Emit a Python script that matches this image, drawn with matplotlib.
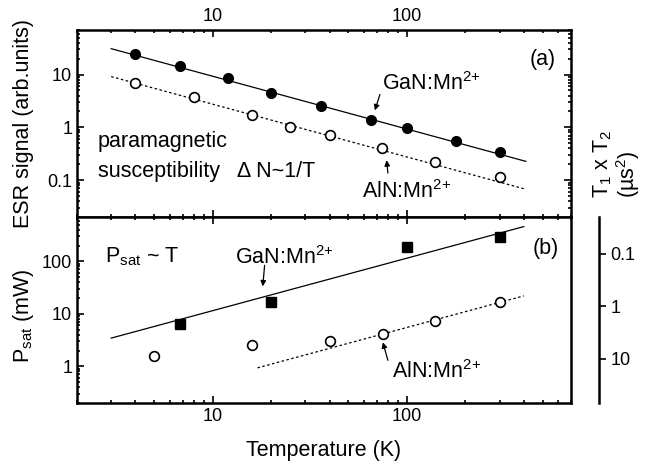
import numpy as np
import matplotlib.pyplot as plt
from matplotlib.ticker import FuncFormatter, NullFormatter, NullLocator, FixedLocator

plt.rcParams['font.family'] = ['Liberation Sans', 'DejaVu Sans']
plt.rcParams['mathtext.fontset'] = 'custom'
plt.rcParams['mathtext.rm'] = 'Liberation Sans'
plt.rcParams['mathtext.it'] = 'Liberation Sans:italic'
plt.rcParams['mathtext.default'] = 'regular'

# (a) ESR signal vs temperature
gan_T_esr = [4, 6.8, 12, 20, 36, 65, 100, 180, 300]
gan_esr = [25, 14.8, 8.8, 4.4, 2.5, 1.36, 0.96, 0.55, 0.34]
aln_T_esr = [4, 8, 16, 25, 40, 74, 140, 300]
aln_esr = [6.8, 3.7, 1.7, 1.0, 0.71, 0.40, 0.22, 0.114]
# 1/T fits
gan_esr_amp = 93
aln_esr_amp = 27.5
esr_fit_range = [3, 410]

# (b) saturation power vs temperature
gan_T_sat = [6.8, 20, 100, 300]
gan_psat = [6.3, 16.6, 190, 290]
aln_T_sat = [5, 16, 40, 75, 140, 300]
aln_psat = [1.6, 2.5, 3.1, 4.2, 7.2, 16.6]
# ~T fits
gan_sat_amp = 1.15
aln_sat_amp = 0.055
gan_sat_range = [3, 400]
aln_sat_range = [17, 400]
t1t2_const = 14  # T1 x T2 = const / Psat

fig = plt.figure(figsize=(6.51, 4.66), dpi=100)
ax1 = fig.add_axes([0.1183, 0.5343, 0.7588, 0.4013])
ax2 = fig.add_axes([0.1183, 0.1352, 0.7588, 0.3991])

fmt = FuncFormatter(lambda v, _: f'{v:g}')
for ax in (ax1, ax2):
    ax.set_xscale('log')
    ax.set_yscale('log')
    ax.set_xlim(2, 700)
    ax.tick_params(which='both', direction='in', top=True, right=True, width=1.2, labelsize=13)
    ax.tick_params(which='major', length=5)
    ax.tick_params(which='minor', length=2.5)
    ax.xaxis.set_major_formatter(fmt)
    ax.yaxis.set_major_formatter(fmt)
    ax.xaxis.set_minor_formatter(NullFormatter())
    ax.yaxis.set_minor_formatter(NullFormatter())
    for s in ax.spines.values():
        s.set_linewidth(1.8)

fs = 15.5
mn = 'Mn$^{2{+}}$'

# panel (a)
ax1.set_ylim(0.02, 70)
ax1.tick_params(labeltop=True, labelbottom=False)
t = np.geomspace(*esr_fit_range, 50)
ax1.plot(t, gan_esr_amp / t, color='k', lw=0.9)
ax1.plot(t, aln_esr_amp / t, color='k', lw=0.9, ls=(0, (2, 2)))
ax1.plot(gan_T_esr, gan_esr, 'o', color='k', ms=7)
ax1.plot(aln_T_esr, aln_esr, 'o', mfc='white', mec='k', mew=1.2, ms=7)

arrow = dict(arrowstyle='-|>', color='k', lw=0.9, mutation_scale=8, shrinkA=0, shrinkB=0)
ax1.text(74, 5.0, 'GaN:' + mn, fontsize=fs, ha='left', va='baseline')
ax1.annotate('', xy=(68.4, 2.1), xytext=(72.6, 4.2), arrowprops=arrow)
ax1.text(59, 0.046, 'AlN:' + mn, fontsize=fs, ha='left', va='baseline')
ax1.annotate('', xy=(78.7, 0.238), xytext=(79.8, 0.136), arrowprops=arrow)
ax1.text(0.943, 0.84, '(a)', transform=ax1.transAxes, fontsize=fs, ha='center', va='center')
ax1.text(0.042, 0.374, 'paramagnetic', transform=ax1.transAxes, fontsize=fs, ha='left', va='baseline')
ax1.text(0.042, 0.214, 'susceptibility   \u0394 N~1/T', transform=ax1.transAxes, fontsize=fs,
         ha='left', va='baseline')

# panel (b)
ax2.set_ylim(0.2, 700)
t = np.geomspace(*gan_sat_range, 50)
ax2.plot(t, gan_sat_amp * t, color='k', lw=0.9)
t = np.geomspace(*aln_sat_range, 50)
ax2.plot(t, aln_sat_amp * t, color='k', lw=0.9, ls=(0, (2, 2)))
ax2.plot(gan_T_sat, gan_psat, 's', color='k', ms=7)
ax2.plot(aln_T_sat, aln_psat, 'o', mfc='white', mec='k', mew=1.2, ms=7)

ax2.text(0.057, 0.755, 'P$_{sat}$ ~ T', transform=ax2.transAxes, fontsize=fs, ha='left', va='baseline')
ax2.text(0.949, 0.833, '(b)', transform=ax2.transAxes, fontsize=fs, ha='center', va='center')
ax2.text(13, 88, 'GaN:' + mn, fontsize=fs, ha='left', va='baseline')
ax2.annotate('', xy=(18.1, 33.4), xytext=(18.5, 84), arrowprops=arrow)
ax2.text(84, 0.61, 'AlN:' + mn, fontsize=fs, ha='left', va='baseline')
ax2.annotate('', xy=(75.2, 2.87), xytext=(79.8, 1.3), arrowprops=arrow)
ax2.set_xlabel('Temperature (K)', fontsize=fs, labelpad=11)

# T1 x T2 axis
ax3 = ax2.twinx()
ax3.set_yscale('log')
lo, hi = ax2.get_ylim()
ax3.set_ylim(t1t2_const / lo, t1t2_const / hi)
ax3.yaxis.set_major_locator(FixedLocator([0.1, 1, 10]))
ax3.yaxis.set_minor_locator(NullLocator())
ax3.yaxis.set_major_formatter(fmt)
for side in ('top', 'bottom', 'left'):
    ax3.spines[side].set_visible(False)
ax3.spines['right'].set_position(('outward', 20))
ax3.spines['right'].set_linewidth(1.8)
ax3.tick_params(axis='y', direction='out', length=5, width=1.2, labelsize=13)

fig.text(24 / 651, 1 - 123 / 466, 'ESR signal (arb.units)', rotation=90, fontsize=fs,
         ha='center', va='center')
fig.text(24 / 651, 1 - 316 / 466, 'P$_{sat}$ (mW)', rotation=90, fontsize=fs,
         ha='center', va='center')
fig.text(617 / 651, 1 - 198 / 466, 'T$_1$ x T$_2$\n(\u00b5s$^2$)', rotation=90, fontsize=fs,
         ha='center', va='bottom', multialignment='left', linespacing=1.0)

fig.savefig('out.png', dpi=100)
